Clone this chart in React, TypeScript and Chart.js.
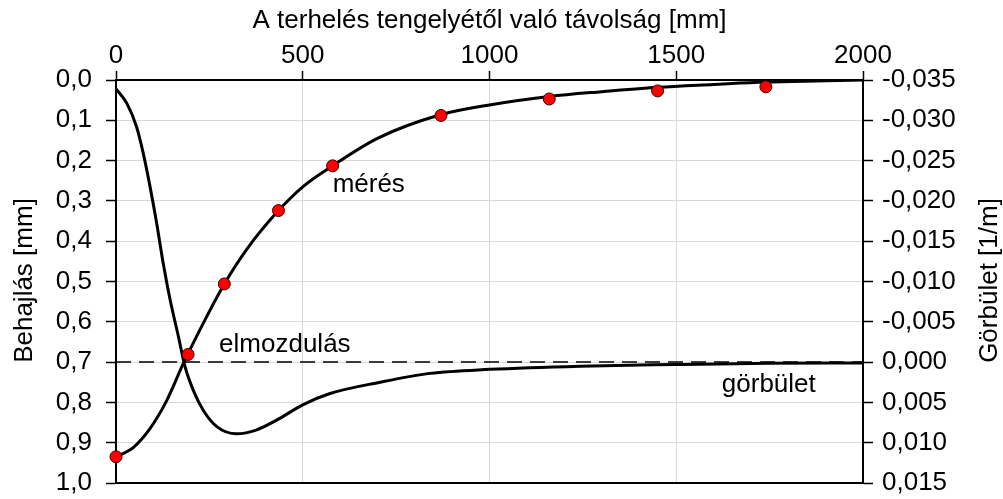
import React, { useEffect, useRef } from 'react';
import { Chart, registerables } from 'chart.js';

Chart.register(...registerables);

// ---- data ----
const measuredDistance = [0, 193, 290, 435, 580, 870, 1160, 1450, 1740];
const measuredDeflection = [0.935, 0.681, 0.506, 0.324, 0.213, 0.088, 0.047, 0.027, 0.017];

const fitDistance = [0, 46, 91, 136, 180, 240, 290, 350, 435, 500, 580, 700, 866, 1000, 1160, 1300, 1450, 1600, 1740, 1900, 2000];
const fitDeflection = [0.935, 0.912, 0.865, 0.795, 0.704, 0.592, 0.506, 0.42, 0.324, 0.265, 0.213, 0.145, 0.087, 0.062, 0.041, 0.029, 0.018, 0.011, 0.005, 0.002, 0.0];

const curvatureDistance = [0, 29, 55, 73, 91, 109, 127, 145, 167, 185, 207, 234, 270, 323, 377, 430, 500, 573, 707, 841, 1000, 1243, 1500, 1750, 2000];
const curvatureValues = [-0.0339, -0.0321, -0.0292, -0.0259, -0.0218, -0.0172, -0.0121, -0.0077, -0.0032, 0.0006, 0.0035, 0.006, 0.008, 0.0089, 0.0084, 0.0072, 0.0053, 0.0039, 0.0025, 0.0014, 0.0009, 0.0005, 0.0003, 0.00015, 0.0001];

const zeroLineDistance = [0, 2000];
const zeroLineCurvature = [0, 0];

const xRange = [0, 2000];
const xStep = 500;
const leftRange = [0, 1];
const leftStep = 0.1;
const rightRange = [-0.035, 0.015];
const rightStep = 0.005;

const xTitle = 'A terhelés tengelyétől való távolság [mm]';
const leftTitle = 'Behajlás [mm]';
const rightTitle = 'Görbület [1/m]';

const labelTexts = ['mérés', 'elmozdulás', 'görbület'];
const labelDistance = [580, 276, 1622];
const labelDeflection = [0.278, 0.675, 0.774];

const FONT = '"Liberation Sans", Arial, sans-serif';
const FS = 26;

const comma = (v: number, d: number) => {
  const r = Math.abs(v) < 1e-9 ? 0 : v;
  return r.toFixed(d).replace('.', ',');
};

const decorPlugin = {
  id: 'decor',
  beforeDatasetsDraw(chart: any) {
    const { ctx, chartArea } = chart;
    ctx.save();
    ctx.strokeStyle = '#000';
    ctx.lineWidth = 2;
    ctx.beginPath();
    ctx.moveTo(chartArea.left - 1, chartArea.bottom);
    ctx.lineTo(chartArea.right + 1, chartArea.bottom);
    ctx.stroke();
    ctx.restore();
  },
  afterDatasetsDraw(chart: any) {
    const { ctx } = chart;
    const xs = chart.scales.x;
    const ys = chart.scales.yL;
    ctx.save();
    ctx.font = `${FS}px ${FONT}`;
    ctx.fillStyle = '#000';
    ctx.textAlign = 'left';
    ctx.textBaseline = 'alphabetic';
    labelTexts.forEach((t, i) => {
      ctx.fillText(t, xs.getPixelForValue(labelDistance[i]), ys.getPixelForValue(labelDeflection[i]));
    });
    ctx.restore();
  },
  afterDraw(chart: any) {
    const { ctx, chartArea } = chart;
    const cx = (chartArea.left + chartArea.right) / 2;
    const cy = (chartArea.top + chartArea.bottom) / 2 - 1;
    ctx.save();
    ctx.font = `${FS}px ${FONT}`;
    ctx.fillStyle = '#000';
    ctx.textAlign = 'center';
    ctx.textBaseline = 'alphabetic';
    ctx.fillText(xTitle, cx, 28);
    ctx.save();
    ctx.translate(32, cy);
    ctx.rotate(-Math.PI / 2);
    ctx.fillText(leftTitle, 0, 0);
    ctx.restore();
    ctx.save();
    ctx.translate(997, cy);
    ctx.rotate(-Math.PI / 2);
    ctx.fillText(rightTitle, 0, 0);
    ctx.restore();
    ctx.restore();
  },
};

export default function App() {
  const ref = useRef<HTMLCanvasElement | null>(null);
  useEffect(() => {
    if (!ref.current) return;
    Chart.defaults.font.family = FONT;
    Chart.defaults.font.size = FS;
    Chart.defaults.color = '#000';
    const chart = new Chart(ref.current, {
      type: 'scatter',
      data: {
        datasets: [
          {
            label: 'mérés',
            data: measuredDistance.map((x, i) => ({ x, y: measuredDeflection[i] })),
            yAxisID: 'yL',
            showLine: false,
            pointRadius: 6,
            pointBackgroundColor: '#ff0000',
            pointBorderColor: '#3a0000',
            pointBorderWidth: 1,
            clip: false,
            order: 0,
          },
          {
            label: 'elmozdulás',
            data: fitDistance.map((x, i) => ({ x, y: fitDeflection[i] })),
            yAxisID: 'yL',
            showLine: true,
            borderColor: '#000',
            borderWidth: 3,
            pointRadius: 0,
            cubicInterpolationMode: 'monotone',
            order: 1,
          },
          {
            label: 'görbület',
            data: curvatureDistance.map((x, i) => ({ x, y: curvatureValues[i] })),
            yAxisID: 'yR',
            showLine: true,
            borderColor: '#000',
            borderWidth: 3,
            pointRadius: 0,
            cubicInterpolationMode: 'monotone',
            order: 2,
          },
          {
            label: 'zero',
            data: zeroLineDistance.map((x, i) => ({ x, y: zeroLineCurvature[i] })),
            yAxisID: 'yR',
            showLine: true,
            borderColor: '#000',
            borderWidth: 1.5,
            borderDash: [15, 8],
            pointRadius: 0,
            order: 3,
          },
        ],
      } as any,
      options: {
        animation: false,
        responsive: true,
        maintainAspectRatio: false,
        layout: { padding: { top: 0, left: 0, right: 0, bottom: 16 } },
        plugins: { legend: { display: false }, tooltip: { enabled: false } },
        scales: {
          x: {
            type: 'linear',
            position: 'top',
            min: xRange[0],
            max: xRange[1],
            ticks: { stepSize: xStep, padding: 0, autoSkip: false, maxRotation: 0, font: { size: FS, family: FONT }, color: '#000', callback: (v: any) => String(Math.round(Number(v))) },
            grid: { color: '#d9d9d9', lineWidth: 1, tickColor: '#000', tickLength: 9, tickWidth: 1.5 },
            border: { color: '#000', width: 2 },
            afterFit: (s: any) => { s.height = 80; s.paddingLeft = 0; s.paddingRight = 0; },
          },
          yL: {
            type: 'linear',
            position: 'left',
            reverse: true,
            min: leftRange[0],
            max: leftRange[1],
            ticks: { stepSize: leftStep, padding: 14, autoSkip: false, font: { size: FS, family: FONT }, color: '#000', callback: (v: any) => comma(Number(v), 1) },
            grid: { color: '#d9d9d9', lineWidth: 1, tickColor: '#000', tickLength: 10, tickWidth: 1.5 },
            border: { color: '#000', width: 2 },
            afterFit: (s: any) => { s.width = 116; s.paddingTop = 0; s.paddingBottom = 0; },
          },
          yR: {
            type: 'linear',
            position: 'right',
            reverse: true,
            min: rightRange[0],
            max: rightRange[1],
            ticks: { stepSize: rightStep, padding: 9, autoSkip: false, font: { size: FS, family: FONT }, color: '#000', callback: (v: any) => comma(Number(v), 3) },
            grid: { drawOnChartArea: false, tickColor: '#000', tickLength: 10, tickWidth: 1.5 },
            border: { color: '#000', width: 2 },
            afterFit: (s: any) => { s.width = 140; s.paddingTop = 0; s.paddingBottom = 0; },
          },
        },
      } as any,
      plugins: [decorPlugin],
    });
    return () => chart.destroy();
  }, []);
  return (
    <div style={{ position: 'fixed', left: 0, top: 0, width: 1003, height: 499, background: '#fff' }}>
      <canvas ref={ref} />
    </div>
  );
}
